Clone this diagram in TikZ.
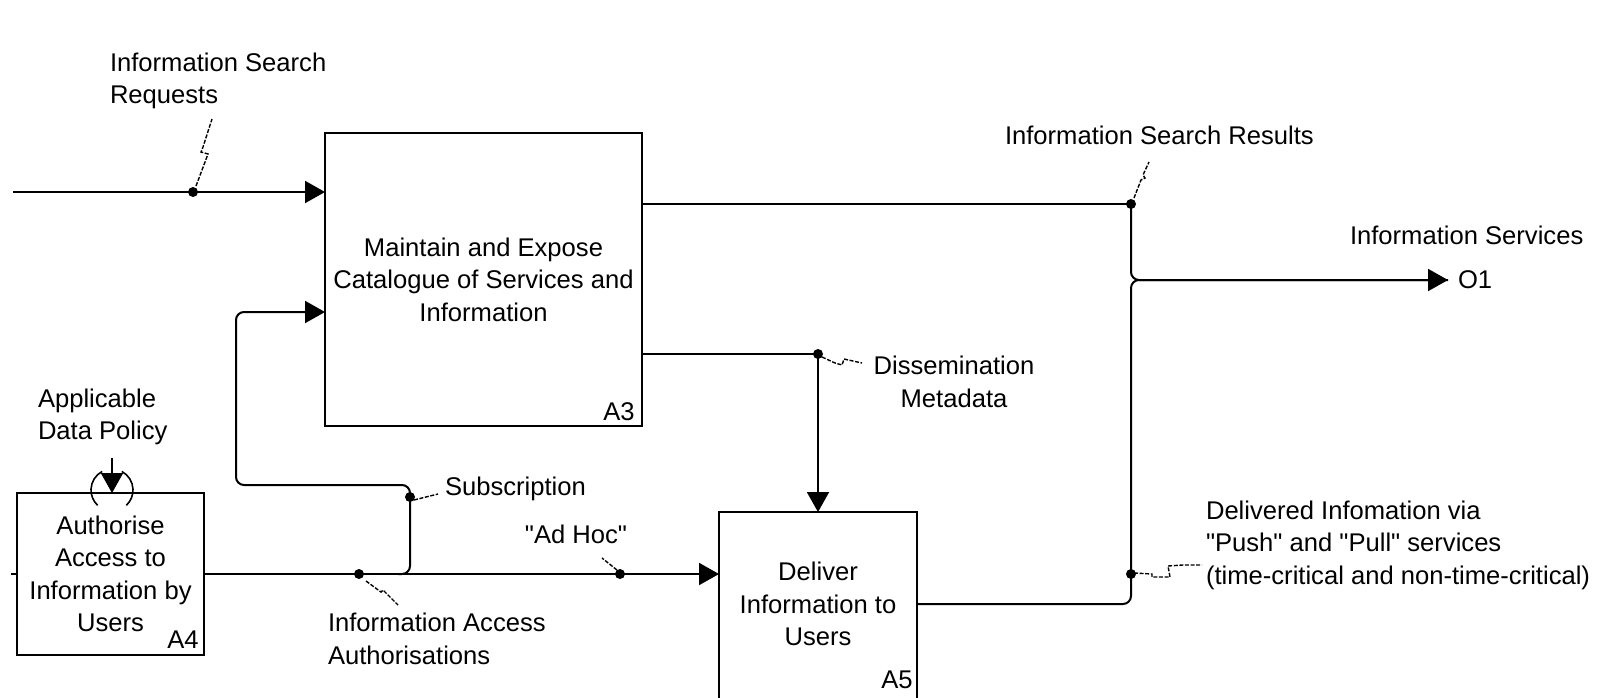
\documentclass[tikz,border=0pt]{standalone}
\usepackage{fontspec}
\setmainfont{Liberation Sans}[Ligatures=TeXOff]
\usetikzlibrary{arrows.meta}
\newcommand\diagfont{\fontsize{12.8}{16.2}\selectfont}
\begin{document}
\begin{tikzpicture}[x=0.5pt,y=-0.5pt,
  every node/.style={inner sep=0pt, outer sep=0pt},
  fbox/.style={draw, line width=1pt, align=center, font=\diagfont},
  txt/.style={font=\diagfont},
  line/.style={line width=1pt},
  flow/.style={line width=1pt, -{Triangle[length=10pt,width=11pt]}},
  jdot/.style={circle, fill=black, minimum size=5pt},
  leader/.style={line width=0.7pt, dash pattern=on 2pt off 0.8pt}]
\useasboundingbox (0,0) rectangle (1616,697);
\clip (0,0) rectangle (1616,697);
\fill[white] (0,0) rectangle (1616,697);

% function boxes
\node[fbox, minimum width=158.5pt, minimum height=146.5pt] (a3) at (483.5,279.5)
  {Maintain and Expose\\Catalogue of Services and\\Information};
\node[fbox, minimum width=93.5pt, minimum height=81pt] (a4) at (110.5,574)
  {Authorise\\Access to\\Information by\\Users};
\node[fbox, minimum width=99pt, minimum height=114pt] (a5) at (818,626) {};
\node[txt, align=center] (a5t) at (818,604) {Deliver\\Information to\\Users};

% box numbers
\node[txt] (n3) at (619,412) {A3};
\node[txt] (n4) at (183,640) {A4};
\node[txt] (n5) at (897,680) {A5};

% labels
\node[txt, anchor=west, align=left] (lsr) at (110,81) {Information Search\\Requests};
\node[txt, anchor=west, align=left] (lap) at (38,417) {Applicable\\Data Policy};
\node[txt, anchor=west, align=left] (liaa) at (328,639) {Information Access\\Authorisations};
\node[txt, anchor=west] (lsub) at (445,489) {Subscription};
\node[txt] (lah) at (576,534) {"Ad Hoc"};
\node[txt, align=center] (ldm) at (954,382) {Dissemination\\Metadata};
\node[txt, anchor=west] (lisr) at (1005,135) {Information Search Results};
\node[txt, anchor=west] (lis) at (1350,235) {Information Services};
\node[txt, anchor=west] (lo1) at (1458,280) {O1};
\node[txt, anchor=west, align=left] (ldel) at (1206,545)
  {Delivered Infomation via\\"Push" and "Pull" services\\(time-critical and non-time-critical)};

% coordinates
\coordinate (in1) at (13,192);
\coordinate (c4) at (112,458);
\coordinate (lp) at (236,312);
\coordinate (sr) at (1131,204);
\coordinate (jn) at (1131,280);
\coordinate (o1) at (1448,280);
\coordinate (a5o) at (1131,604);
\coordinate (dm) at (818,354);

% junction dots
\node[jdot] (d1) at (193,192) {};
\node[jdot] (d2) at (359,574) {};
\node[jdot] (d3) at (410,497) {};
\node[jdot] (d4) at (620,574) {};
\node[jdot] (d5) at (818,354) {};
\node[jdot] (d6) at (1131,204) {};
\node[jdot] (d7) at (1131,574) {};

% input to A3
\draw[flow] (in1) -- (in1 -| a3.west);
% control into A4 with tunnel
\draw[flow] (c4) -- (c4 |- a4.north);
\draw[line width=0.8pt] (112,490) ++(118:10.5pt) arc[start angle=118, end angle=227, radius=10.5pt];
\draw[line width=0.8pt] (112,490) ++(62:10.5pt) arc[start angle=62, end angle=-47, radius=10.5pt];
% small stub at A4 west
\draw[line] (11,574) -- (a4.west);
% A4 output to A5
\draw[flow] (a4.east) -- (a4.east -| a5.west);
% subscription loop back to A3
\draw[flow, rounded corners=4pt] (398,574) -- (410,574) -- (410,485) -- (236,485) -- (lp) -- (lp -| a3.west);
% A3 outputs
\draw[line] (sr -| a3.east) -- (sr);
\draw[line, rounded corners=4pt] (sr) -- (jn) -- (o1);
\draw[line] (dm -| a3.east) -- (dm);
\draw[flow] (dm) -- (a5.north);
% A5 output up to junction and out
\draw[flow, rounded corners=4pt] (a5o -| a5.east) -- (a5o) -- (jn) -- (o1);

% leaders (squiggles)
\draw[leader] (196,186) -- (208,154) -- (201,152) -- (203,147) -- (212,119);
\draw[leader] (366,581) -- (381,592) -- (383,590) -- (398,605);
\draw[leader] (414,500) -- (438,494);
\draw[leader] (617,570) -- (602,558);
\draw[leader] (822,357) -- (835,363) -- (842,365) -- (844,359) -- (862,363);
\draw[leader] (1134,198) -- (1141,180) -- (1145,178) -- (1143,175) -- (1149,162);
\draw[leader] (1134,573) -- (1152,574) -- (1152,577) -- (1170,577) -- (1168,566) -- (1183,565) -- (1202,565);
\end{tikzpicture}
\end{document}
